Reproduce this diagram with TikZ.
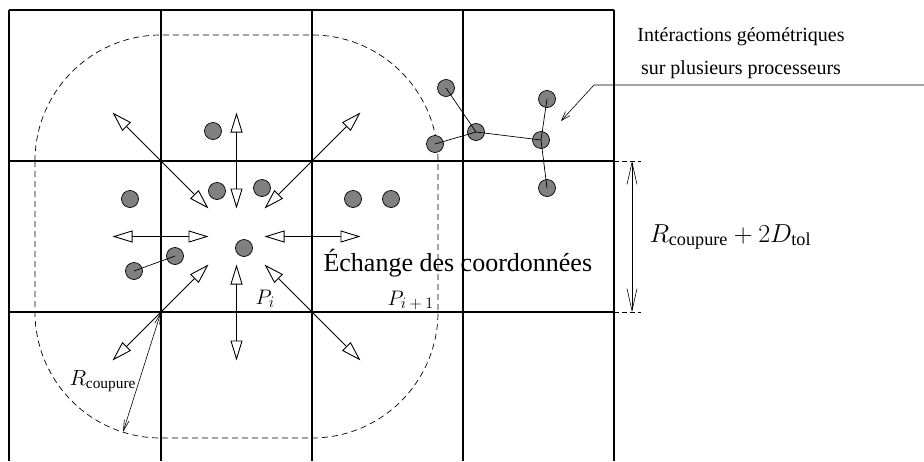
\documentclass[tikz,border=0pt]{standalone}
\usepackage{fix-cm}
\usepackage{amsmath}
\usepackage{fontspec}
\setmainfont{Liberation Serif}
\usetikzlibrary{arrows.meta}
\newcommand{\pindice}[1]{\mbox{\fontsize{16}{16}\selectfont$#1$}}

\begin{document}
\begin{tikzpicture}[
  part/.style={circle,draw,fill=black!50,minimum size=17pt,inner sep=0pt,line width=0.7pt},
  bond/.style={line width=0.7pt},
  cell/.style={line width=1.1pt},
  echange/.style={line width=0.9pt,{Triangle[open,length=20pt,width=12pt]}-{Triangle[open,length=20pt,width=12pt]}},
  cut/.style={dash pattern=on 6pt off 4pt,line width=0.7pt},
  cote/.style={line width=0.6pt,{Straight Barb[length=22pt,width=10pt]}-{Straight Barb[length=22pt,width=10pt]}},
  rayon/.style={line width=0.6pt,{Straight Barb[length=11pt,width=5pt]}-{Straight Barb[length=11pt,width=5pt]}},
  fleche/.style={line width=0.6pt,-{Straight Barb[length=9pt,width=6pt]}},
  big/.style={font=\fontsize{26}{30}\selectfont},
  mid/.style={font=\fontsize{22}{26}\selectfont},
  x=1pt,y=-1pt
]
  \useasboundingbox (0,0) rectangle (924,461);

  % decoupage en sous-domaines
  \foreach \x in {9,161,312,463,614} \draw[cell] (\x,10) -- (\x,461);
  \foreach \y in {10,161,312} \draw[cell] (9,\y) -- (614,\y);

  % zone d'echange
  \draw[cut,rounded corners=126pt] (35,35) rectangle (438,438);

  % echanges
  \coordinate (c) at (236.5,236.5);
  \foreach \dx/\dy [count=\k] in {-1/-1,0/-1,1/-1,-1/0,1/0,-1/1,0/1,1/1} {
    \coordinate (in\k) at (236.5+28*\dx,236.5+28*\dy);
    \coordinate (out\k) at (236.5+124*\dx,236.5+124*\dy);
    \draw[echange] (in\k) -- (out\k);
  }

  % particules
  \node[part] (p1) at (213,131) {};
  \node[part] (p2) at (217,191) {};
  \node[part] (p3) at (262,188) {};
  \node[part] (p4) at (130,199) {};
  \node[part] (p5) at (353,199) {};
  \node[part] (p6) at (391,199) {};
  \node[part] (p7) at (134,271) {};
  \node[part] (p8) at (175,256) {};
  \node[part] (p9) at (244,248) {};
  \node[part] (p10) at (446,88) {};
  \node[part] (p11) at (435,144) {};
  \node[part] (p12) at (476,132) {};
  \node[part] (p13) at (547,99) {};
  \node[part] (p14) at (541,140) {};
  \node[part] (p15) at (547,188) {};

  \draw[bond] (p7.center) -- (p8.center);
  \draw[bond] (p10.center) -- (p12.center);
  \draw[bond] (p11.center) -- (p12.center);
  \draw[bond] (p12.center) -- (p14.center);
  \draw[bond] (p13.center) -- (p14.center);
  \draw[bond] (p14.center) -- (p15.center);

  % rayon de coupure
  \coordinate (k) at (161,312);
  \coordinate (r) at (123,432);
  \draw[rayon] (k) -- (r);
  \node[mid,anchor=base west] (lrc) at (66,385) {$R_{\text{coupure}}$};

  % cote
  \coordinate (d1) at (632,161);
  \coordinate (d2) at (632,312);
  \draw[cut,dash pattern=on 5pt off 3pt] (614,161) -- (641,161);
  \draw[cut,dash pattern=on 5pt off 3pt] (614,312) -- (641,312);
  \draw[cote] (d1) -- (d2);
  \node[big,anchor=base west] (lcote) at (646,242) {$R_{\text{coupure}}+2D_{\text{tol}}$};

  % textes
  \node[big,anchor=base west] (ech) at (320,271) {Échange des coordonnées};
  \node[font=\fontsize{21}{26}\selectfont,anchor=base west] (pi) at (252,304) {$P_{\pindice{i}}$};
  \node[font=\fontsize{21}{26}\selectfont,anchor=base west] (pi1) at (384,305) {$P_{\pindice{i+1}}$};
  \node[font=\fontsize{20}{33}\selectfont,align=center] (inter) at (741,53)
    {Intéractions géométriques\\sur plusieurs processeurs};

  \coordinate (l0) at (924,85);
  \coordinate (l1) at (594,85);
  \coordinate (l2) at (561,121);
  \draw[fleche] (l0) -- (l1) -- (l2);
\end{tikzpicture}
\end{document}
